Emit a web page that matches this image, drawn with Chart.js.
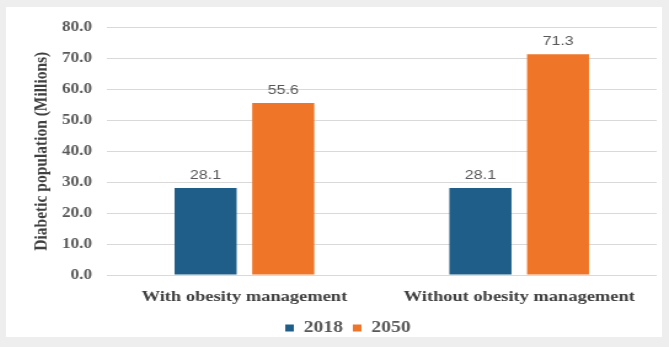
<!DOCTYPE html>
<html>
<head>
<meta charset="utf-8">
<script src="https://cdn.jsdelivr.net/npm/chart.js@4"></script>
<style>
  html, body { margin: 0; padding: 0; background: #eeeeee; }
  #frame {
    position: absolute; left: 6px; top: 7px; width: 656px; height: 330px;
    background: #ffffff; overflow: hidden;
  }
  /* the figure is drawn narrow and widened, which gives the broad lettering */
  #popChart { transform: scaleX(1.23); transform-origin: 0 0; }
</style>
</head>
<body>
<div id="frame"><canvas id="popChart" width="533" height="339"></canvas></div>
<script>
const categories = ['With obesity management', 'Without obesity management'];
const years = ['2018', '2050'];
const values2018 = [28.1, 28.1];
const values2050 = [55.6, 71.3];
const yTicks = [0, 10, 20, 30, 40, 50, 60, 70, 80];

const serif = '"Liberation Serif", "Times New Roman", serif';
const textGrey = '#595959';

// writes the value above every bar
const barValues = {
    id: 'barValues',
    afterDatasetsDraw(chart) {
        const ctx = chart.ctx;
        ctx.save();
        ctx.font = '13px "Liberation Sans", Arial, sans-serif';
        ctx.fillStyle = textGrey;
        ctx.textAlign = 'center';
        ctx.textBaseline = 'alphabetic';
        chart.data.datasets.forEach((ds, i) => {
            chart.getDatasetMeta(i).data.forEach((bar, j) => {
                ctx.fillText(ds.data[j].toFixed(1), bar.x, bar.y - 9);
            });
        });
        ctx.restore();
    }
};

new Chart(document.getElementById('popChart'), {
    type: 'bar',
    data: {
        labels: categories,
        datasets: [{
            label: years[0],
            data: values2018,
            backgroundColor: '#1e5e88'
        }, {
            label: years[1],
            data: values2050,
            backgroundColor: '#ef7629'
        }]
    },
    options: {
        responsive: false,
        animation: false,
        layout: { padding: { top: 19, right: 4, left: 27, bottom: 0 } },
        datasets: {
            bar: { barPercentage: 0.8, categoryPercentage: 0.565 }
        },
        plugins: {
            legend: {
                position: 'bottom',
                labels: {
                    boxWidth: 7,
                    boxHeight: 7,
                    padding: 8,
                    color: textGrey,
                    font: { family: serif, size: 16, weight: 'bold' }
                }
            },
            tooltip: { enabled: false }
        },
        scales: {
            x: {
                grid: { display: false },
                border: { display: false },
                afterFit(axis) {
                    axis.height += 1;
                },
                ticks: {
                    color: '#404040',
                    padding: 5,
                    font: { family: serif, size: 15, weight: 'bold' }
                }
            },
            y: {
                min: 0,
                max: 80,
                afterBuildTicks(axis) {
                    axis.ticks = yTicks.map(v => ({ value: v }));
                },
                grid: { color: '#d9d9d9', drawTicks: false },
                border: { display: false },
                ticks: {
                    padding: 12,
                    color: textGrey,
                    font: { family: serif, size: 14, weight: 'bold' },
                    callback: v => v.toFixed(1)
                },
                title: {
                    display: true,
                    text: 'Diabetic population (Millions)',
                    color: '#404040',
                    padding: { top: -7, bottom: -5 },
                    font: { family: serif, size: 15.5, weight: 'bold' }
                }
            }
        }
    },
    plugins: [barValues]
});
</script>
</body>
</html>
